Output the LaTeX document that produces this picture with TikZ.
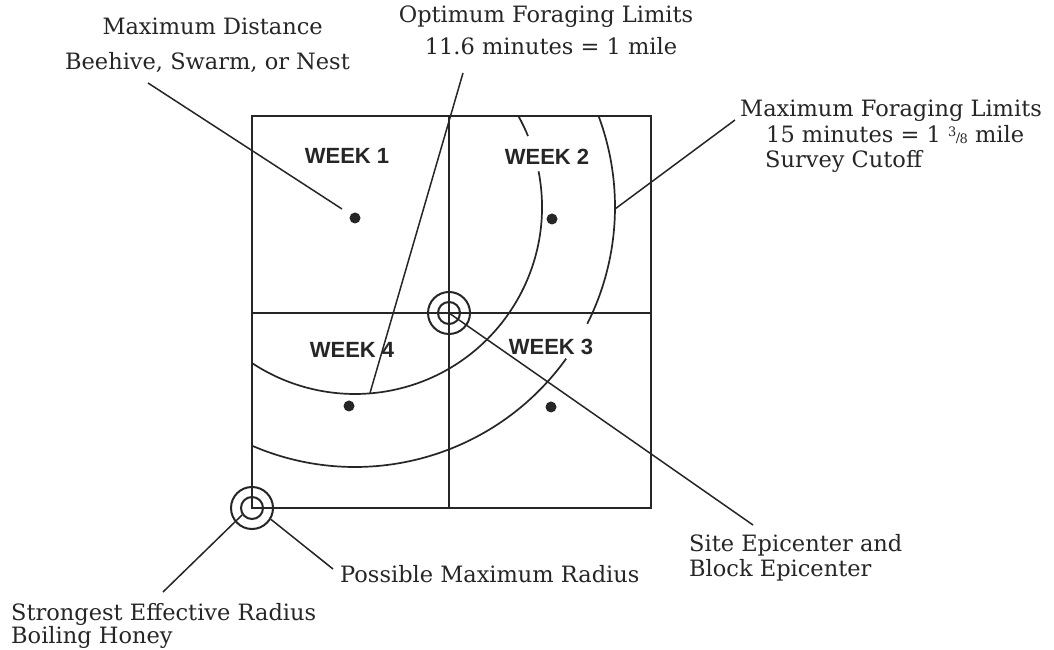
\documentclass[tikz,border=0pt]{standalone}
\usepackage{fontspec}
\newfontfamily\lblfont{DejaVu Serif}
\newfontfamily\wkfont{Liberation Sans}
\definecolor{ink}{HTML}{262626}
\newcommand{\threeeighths}{{\fontsize{13}{13}\selectfont\raisebox{6pt}{3}\kern-0.5pt/\kern-0.5pt\raisebox{-1pt}{8}}}
\begin{document}
\begin{tikzpicture}[x=1pt,y=1pt,
  lbl/.style={font=\lblfont\fontsize{22.5}{26}\selectfont, inner sep=0pt, text=ink},
  wk/.style={font=\wkfont\bfseries\fontsize{22}{26}\selectfont, inner sep=0pt, text=ink},
  conn/.style={draw=ink, line width=1.5pt},
  frame/.style={draw=ink, line width=2.6pt},
  divider/.style={draw=ink, line width=2pt},
  arcline/.style={draw=ink, line width=1.7pt},
  ring/.style={circle, draw=ink, line width=2pt, inner sep=0pt},
  dotmark/.style={circle, fill=ink, inner sep=0pt, minimum size=11pt}
]
\useasboundingbox (0,0) rectangle (1054,650);
\fill[white] (0,0) rectangle (1054,650);

% frame and dividers
\draw[frame] (252,142) rectangle (651,534);
\draw[divider] (449,142) -- (449,534);
\draw[divider] (252,337) -- (651,337);

% foraging arcs (centred near Week 1)
\coordinate (fc) at (355,443);
\draw[arcline] (fc) ++(29.1:187) arc[start angle=29.1, end angle=22.3, radius=187];
\draw[arcline] (fc) ++(11:187) arc[start angle=11, end angle=-123.4, radius=187];
\draw[arcline] (fc) ++(20.5:260) arc[start angle=20.5, end angle=-26.7, radius=260];
\draw[arcline] (fc) ++(-35.7:260) arc[start angle=-35.7, end angle=-113.3, radius=260];

% rings
\node[ring, minimum size=42pt] (epi) at (449,337) {};
\node[ring, minimum size=22pt] (epiin) at (449,337) {};
\node[ring, minimum size=42pt] (cor) at (252,142) {};
\node[ring, minimum size=22pt] (corin) at (252,142) {};

% dots
\node[dotmark] (d1) at (355,432) {};
\node[dotmark] (d2) at (552,431) {};
\node[dotmark] (d4) at (349,244) {};
\node[dotmark] (d3) at (551,243) {};

% week labels
\node[wk] (w1) at (347,494) {WEEK 1};
\node[wk] (w2) at (547,493) {WEEK 2};
\node[wk] (w4) at (352,300) {WEEK 4};
\node[wk] (w3) at (551,303) {WEEK 3};

% text labels
\node[lbl, anchor=base east] (md1) at (323,615) {Maximum Distance};
\node[lbl, anchor=base east] (md2) at (350,580) {Beehive, Swarm, or Nest};
\node[lbl, anchor=base] (op1) at (546,627) {Optimum Foraging Limits};
\node[lbl, anchor=base] (op2) at (551,595) {11.6 minutes = 1 mile};
\node[lbl, anchor=base west] (mf1) at (740,533) {Maximum Foraging Limits};
\node[lbl, anchor=base west] (mf2) at (766,507) {15 minutes = 1 \threeeighths{} mile};
\node[lbl, anchor=base west] (mf3) at (765,482) {Survey Cutoff};
\node[lbl, anchor=base west] (se1) at (689,98) {Site Epicenter and};
\node[lbl, anchor=base west] (se2) at (689,73) {Block Epicenter};
\node[lbl, anchor=base west] (pm) at (340,67) {Possible Maximum Radius};
\node[lbl, anchor=base west] (sf1) at (11,29) {Strongest Effective Radius};
\node[lbl, anchor=base west] (sf2) at (11,6) {Boiling Honey};

% connector end points
\coordinate (mdA) at (148,567);
\coordinate (mdB) at (342,441);
\coordinate (opA) at (463,577);
\coordinate (opB) at (370,257);
\coordinate (mfA) at (735,530);
\coordinate (mfB) at (615,441);
\coordinate (seA) at (753,125);
\coordinate (pmA) at (333,81);
\coordinate (sfA) at (163,58);

% connectors
\draw[conn] (mdA) -- (mdB);
\draw[conn] (opA) -- (opB);
\draw[conn] (mfA) -- (mfB);
\draw[conn] (epi.center) -- (seA);
\draw[conn] (cor.-31) -- (pmA);
\draw[conn] (corin.215) -- (sfA);
\end{tikzpicture}
\end{document}
